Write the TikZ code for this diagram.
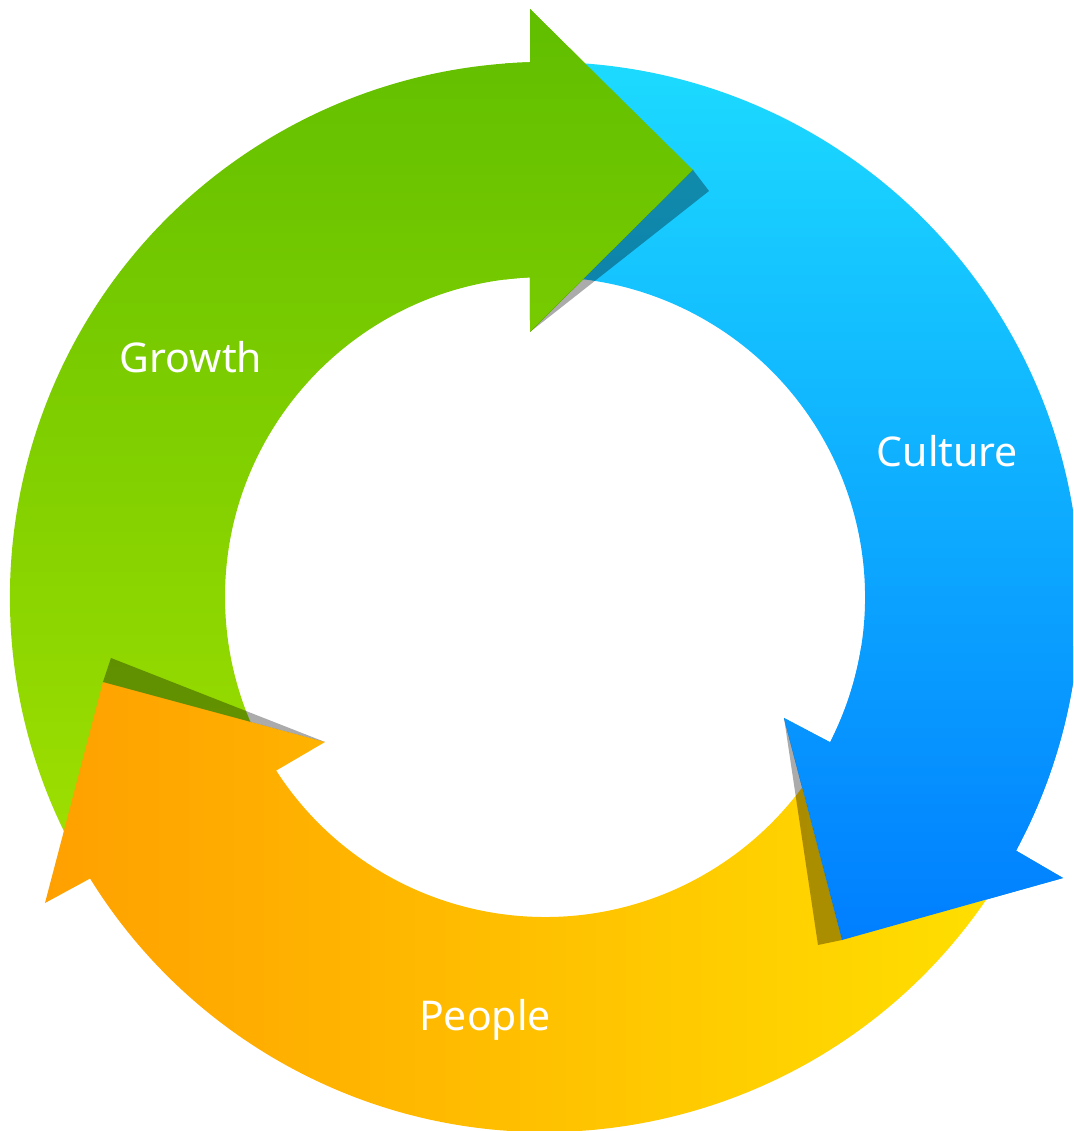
\documentclass[tikz,border=0pt]{standalone}
\usepackage{fontspec}
\setmainfont{Noto Sans}
\definecolor{gtop}{RGB}{96,190,0}
\definecolor{gbot}{RGB}{160,224,0}
\definecolor{btop}{RGB}{28,219,255}
\definecolor{bbot}{RGB}{0,126,255}
\definecolor{oleft}{RGB}{255,160,0}
\definecolor{oright}{RGB}{255,224,0}
\begin{document}
\begin{tikzpicture}[x=1pt,y=1pt,
  lbl/.style={text=white, font=\fontsize{41}{48}\selectfont, anchor=base, inner sep=0pt},
  shd/.style={fill=black, fill opacity=0.33}]
\useasboundingbox (-545,-534) rectangle (528,597);
\clip (-545,-534) rectangle (528,597);
\def\greenpath{(210:535) arc[start angle=210, end angle=91.6, radius=535] -- (-15,588) -- (148,427) -- (-15,265) -- (92.69:320) arc[start angle=92.69, end angle=210, radius=320] -- cycle}
\def\bluepath{(89:535) arc[start angle=89, end angle=-28.3, radius=535] -- (518,-281) -- (297,-343) -- (239,-121) -- (-27:320) arc[start angle=-27, end angle=89, radius=320] -- cycle}
\def\orangepath{(-30:535) arc[start angle=-30, end angle=-148.25, radius=535] -- (-500,-306) -- (-442,-85) -- (-220,-145) -- (-147.15:320) arc[start angle=-147.15, end angle=-30, radius=320] -- cycle}
% green arrow
\begin{scope}\clip \greenpath; \shade[top color=gtop,bottom color=gbot] (-545,-280) rectangle (200,588); \end{scope}
% blue arrow
\begin{scope}\clip \bluepath; \shade[top color=btop,bottom color=bbot] (-50,-343) rectangle (540,535); \end{scope}
% orange arrow
\begin{scope}\clip \orangepath; \shade[left color=oleft,right color=oright] (-500,-534) rectangle (465,-60); \end{scope}
% green head on top of blue body
\begin{scope}\clip (-40,0) rectangle (200,600); \clip \greenpath; \shade[top color=gtop,bottom color=gbot] (-545,-280) rectangle (200,588); \end{scope}
% blue head on top of orange body
\begin{scope}\clip (150,-400) rectangle (600,-50); \clip \bluepath; \shade[top color=btop,bottom color=bbot] (-50,-343) rectangle (540,535); \end{scope}
% shadows
\fill[shd] (-15,265) -- (164,406) -- (148,427) -- cycle;
\fill[shd] (239,-121) -- (273,-348) -- (297,-343) -- cycle;
\fill[shd] (-434,-61) -- (-220,-145) -- (-442,-85) -- cycle;
% labels
\node[lbl] (growth) at (-354,224) {Growth};
\node[lbl] (culture) at (402.5,130) {Culture};
\node[lbl] (people) at (-60,-433) {People};
\end{tikzpicture}
\end{document}
